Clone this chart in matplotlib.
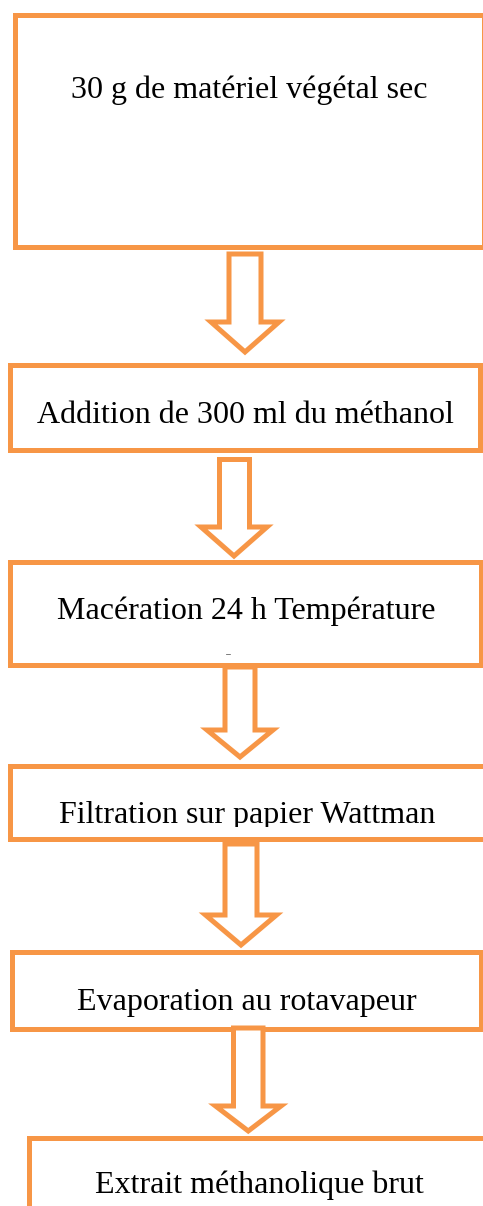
import matplotlib
matplotlib.use("Agg")
import matplotlib.pyplot as plt
from matplotlib.patches import Rectangle, Polygon
from matplotlib.transforms import Bbox, TransformedBbox

# ---- content ----
step_labels = [
    "30 g de matériel végétal sec",
    "Addition de 300 ml du méthanol",
    "Macération 24 h Température",
    "Filtration sur papier Wattman",
    "Evaporation au rotavapeur",
    "Extrait méthanolique brut",
]
overflow_label = "ambiante"   # second line of step 3, hidden by the box

# ---- layout (pixel coordinates, y downward) ----
W, H = 483, 1206
box_x0 = [14.5, 10, 10, 10, 12.3, 29]
box_x1 = [483.5, 480, 480.5, 495, 481, 500]
box_y0 = [15, 364.5, 562, 766, 952, 1138]
box_y1 = [246.5, 450, 665, 839, 1029, 1250]
text_x = [249, 245, 246.5, 247.5, 247, 259.5]
text_base = [98, 423, 619, 823.5, 1010, 1193.5]
text_clip = [None, None, None, 827, None, 1203]

# arrows: shaft left, shaft right, top, head start, head left, head right, tip
arr_sl = [229, 219.5, 225, 225, 233.5]
arr_sr = [261, 249.5, 255, 257, 263]
arr_top = [254, 459.5, 667, 844, 1028]
arr_hy = [322, 527, 730, 915, 1106]
arr_hl = [211, 201, 207, 205.5, 215.5]
arr_hr = [279, 267, 273, 276.5, 281]
arr_tip = [352, 556, 757, 945, 1131]

ORANGE = "#F79646"
LW = 5 * 72 / 100  # 5 px

fig = plt.figure(figsize=(W / 100, H / 100), dpi=100)
ax = fig.add_axes([0, 0, 1, 1])
ax.set_xlim(0, W)
ax.set_ylim(H, 0)
ax.axis("off")

FONT = dict(family=["Liberation Serif", "DejaVu Serif"], size=23, color="black")


def clip_above(artist, ybottom):
    bb = TransformedBbox(Bbox([[0, 0], [W, ybottom]]), ax.transData)
    artist.set_clip_box(bb)
    artist.set_clip_on(True)


for i, lab in enumerate(step_labels):
    r = Rectangle((box_x0[i], box_y0[i]), box_x1[i] - box_x0[i], box_y1[i] - box_y0[i],
                  facecolor="white", edgecolor=ORANGE, linewidth=LW, joinstyle="miter", zorder=2)
    ax.add_patch(r)
    t = ax.text(text_x[i], text_base[i], lab, ha="center", va="baseline", zorder=4, **FONT)
    if text_clip[i] is not None:
        clip_above(t, text_clip[i])

# hidden second line of step 3 (only the tops peek out)
t2 = ax.text(text_x[2], 677, overflow_label, ha="center", va="baseline", zorder=4, **FONT)
clip_above(t2, 654.5)

for j in range(len(arr_tip)):
    cx = (arr_hl[j] + arr_hr[j]) / 2
    pts = [(arr_sl[j], arr_top[j]), (arr_sr[j], arr_top[j]), (arr_sr[j], arr_hy[j]),
           (arr_hr[j], arr_hy[j]), (cx, arr_tip[j]), (arr_hl[j], arr_hy[j]),
           (arr_sl[j], arr_hy[j])]
    p = Polygon(pts, closed=True, facecolor="white", edgecolor=ORANGE, linewidth=LW,
                joinstyle="miter", zorder=3)
    ax.add_patch(p)

fig.savefig("out.png", dpi=100, facecolor="white")
